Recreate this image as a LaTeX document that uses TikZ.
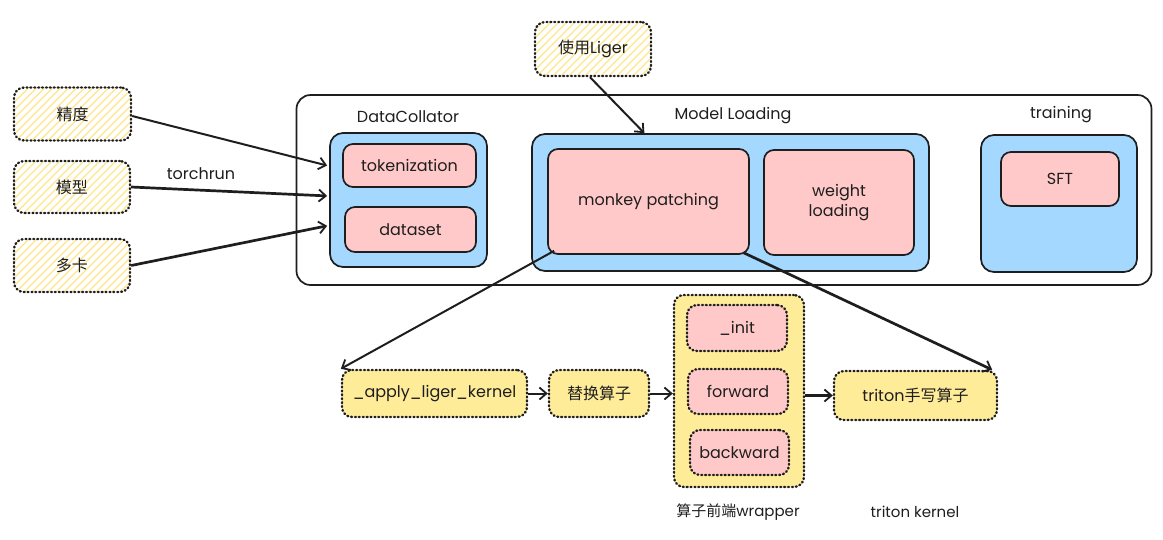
\documentclass[tikz,border=0pt]{standalone}
\usepackage{fontspec}
\setmainfont{Poppins}
\newfontfamily\cjk{Noto Sans CJK SC}
\usetikzlibrary{arrows.meta,calc}
\definecolor{pk}{HTML}{FFC9C9}
\definecolor{bl}{HTML}{A5D8FF}
\definecolor{yl}{HTML}{FFEC99}
\definecolor{hy}{HTML}{FFE58A}
\definecolor{ink}{HTML}{1E1E1E}
\begin{document}
\begin{tikzpicture}[x=1pt,y=-1pt,
  wh/.style 2 args={minimum width=#1pt,minimum height=#2pt},
  base/.style={inner sep=0pt, font=\fontsize{16}{20}\selectfont, text=ink, align=center},
  dots/.style={dash pattern=on 0.9pt off 3pt, line cap=round, line width=2.4pt},
  hatch/.style={path picture={
      \foreach \i in {-70,-62,...,150}
        \draw[hy, solid, line cap=butt, line width=1.2pt] ($(path picture bounding box.south west)+(\i,0)$) -- ++(70,-70);}},
  inbox/.style={base, draw=ink, dots, rounded corners=10pt, hatch},
  container/.style={base, draw=ink, line width=1.7pt, rounded corners=14pt},
  bluebox/.style={base, fill=bl, draw=ink, line width=1.7pt, rounded corners=13pt},
  pinkbox/.style={base, fill=pk, draw=ink, line width=1.7pt, rounded corners=10pt},
  ybox/.style={base, fill=yl, draw=ink, dots, rounded corners=10pt},
  pinkdot/.style={base, fill=pk, draw=ink, dots, rounded corners=10pt},
  lbl/.style={base},
  small/.style={base, font=\fontsize{15}{18}\selectfont},
  arr/.style={draw=ink, line width=2pt, -{Straight Barb[length=7pt,width=12pt,line width=1.8pt]}},
  thick arr/.style={arr, line width=2.7pt},
]
\useasboundingbox (0,0) rectangle (1163,539);

% inputs
\node[inbox, wh={117}{53}] (jd) at (72.5,114) {\cjk 精度};
\node[inbox, wh={116}{52}] (mx) at (72,187) {\cjk 模型};
\node[inbox, wh={116}{53}] (dk) at (72,265.5) {\cjk 多卡};
\node[inbox, wh={116}{54}] (liger) at (593,49) {{\cjk 使用}Liger};

% outer container
\node[container, wh={855}{190}] (outer) at (724,190) {};
\node[lbl] (dclbl) at (408,117) {DataCollator};
\node[lbl] (mllbl) at (733,116) {Model Loading};
\node[lbl] (trlbl) at (1061,115) {training};

% DataCollator
\node[bluebox, wh={157}{134}] (dc) at (408.5,200) {};
\node[pinkbox, wh={133}{43}] (tok) at (409.5,165.5) {tokenization};
\node[pinkbox, wh={131}{45}] (ds) at (410.5,229.5) {dataset};

% Model loading
\node[bluebox, wh={397}{137}] (ml) at (730.5,202.5) {};
\node[pinkbox, wh={201}{105}] (mp) at (648.5,201.5) {monkey patching};
\node[pinkbox, wh={150}{105}] (wl) at (839,202.5) {weight\\loading};

% training
\node[bluebox, wh={156}{137}] (tr) at (1059,203.5) {};
\node[pinkbox, wh={118}{54}] (sft) at (1060,179) {SFT};

% bottom row
\node[ybox, wh={185}{47}] (apply) at (434.5,393.5) {\_apply\_liger\_kernel};
\node[ybox, wh={100}{47}] (repl) at (599,393.5) {\cjk 替换算子};
\node[ybox, wh={130}{192}] (wrap) at (739,391) {};
\node[pinkdot, wh={100}{46}] (init) at (737,328) {\_init};
\node[pinkdot, wh={100}{45}] (fwd) at (738,391.5) {forward};
\node[pinkdot, wh={99}{45}] (bwd) at (739.5,452.5) {backward};
\node[ybox, wh={163}{49}] (triton) at (915.5,395.5) {triton{\cjk 手写算子}};

\node[small] (wraplbl) at (738,512) {{\cjk 算子前端}wrapper};
\node[small] (kernlbl) at (915,512) {triton kernel};
\node[lbl] (torchrun) at (201,174) {torchrun};

% connector end points
\coordinate (t1) at ($(dc.north west)!0.246!(dc.south west)+(-2,0)$);
\coordinate (t2) at ($(dc.north west)!0.47!(dc.south west)+(-2,0)$);
\coordinate (t3) at ($(dc.north west)!0.69!(dc.south west)+(-2,0)$);
\coordinate (s1) at ($(jd.east)+(0,2)$);
\coordinate (s4) at ($(liger.south)+(-3,0)$);
\coordinate (t4) at ($(ml.north west)!0.284!(ml.north east)$);
\coordinate (s5) at ($(mp.south west)+(7,-4)$);
\coordinate (s6) at ($(mp.south east)+(-6,-2)$);
\coordinate (t6) at ($(triton.north east)+(-6,0)$);

\draw[arr] (s1) -- (t1);
\draw[thick arr] (mx.east) -- (t2);
\draw[thick arr] (dk.east) -- (t3);
\draw[arr] (s4) -- (t4);
\draw[arr] (s5) -- (apply.north west);
\draw[thick arr] (s6) -- (t6);
\draw[arr] (apply.east) -- (repl.west);
\draw[arr] (repl.east) -- (wrap.west |- repl.east);
\draw[thick arr] (wrap.east |- triton.west) -- (triton.west);
\end{tikzpicture}
\end{document}
